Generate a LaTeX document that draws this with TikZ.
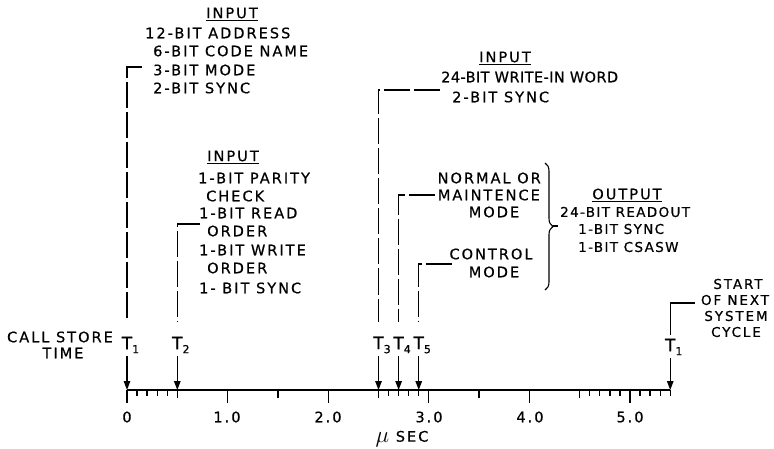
\documentclass[tikz,border=0pt]{standalone}
\usepackage{fontspec}
\usetikzlibrary{arrows.meta,decorations.pathreplacing}
\newfontfamily\lettfont{DejaVu Sans}[LetterSpace=14,FakeBold=0.6]
\newfontfamily\lettfontb{DejaVu Sans}[LetterSpace=3,FakeBold=0.6]
\newfontfamily\lettfontc{DejaVu Sans}[LetterSpace=10,FakeBold=0.6]
\newfontfamily\tfont{DejaVu Sans}[FakeBold=0.8]
\newcommand{\lett}{\lettfont\fontsize{14.5}{17}\selectfont}
\newcommand{\subn}[1]{\raisebox{-4pt}{\fontsize{11}{11}\selectfont #1}}
\tikzset{
  lbl/.style={inner sep=0pt, font=\lett},
  lblw/.style={inner sep=0pt, font=\lettfontb\fontsize{14.5}{17}\selectfont},
  lblo/.style={inner sep=0pt, font=\lettfontc\fontsize{13.5}{16}\selectfont},
  lbls/.style={inner sep=0pt, font=\lettfont\fontsize{13.5}{16}\selectfont},
  tlbl/.style={inner sep=0pt, font=\tfont\fontsize{17}{17}\selectfont},
  tline/.style={line width=1.3pt, dash pattern=on 26pt off 4pt},
  hline/.style={line width=1.3pt},
  arr/.style={line width=1.3pt, -{Triangle[length=9pt,width=6.5pt]}},
  tck/.style={line width=1.3pt},
}
\begin{document}
\begin{tikzpicture}[x=1pt,y=-1pt]
\useasboundingbox (0,0) rectangle (774,449);
% axis
\def\ux{100.6}
\coordinate (ax0) at (127,390);
\coordinate (axe) at ({127+5.4*\ux},390);
\draw[tck] (ax0) -- (axe);
\foreach \t in {0,1,2,3,4,5} \draw[tck] ({127+\t*\ux},390) -- ({127+\t*\ux},403);
\foreach \t in {0.5,1.5,2.5,3.5,4.5} \draw[tck] ({127+\t*\ux},390) -- ({127+\t*\ux},398);
\foreach \t in {0.1,0.2,0.3,0.4,2.6,2.7,2.8,2.9,4.6,4.7,4.8,4.9,5.1,5.2,5.3,5.4} \draw[tck] ({127+\t*\ux},390) -- ({127+\t*\ux},396);
% axis numbers
\node[lbl] (n0) at (127,417) {0};
\node[lbl] (n1) at (227,417) {1.0};
\node[lbl] (n2) at (328,417) {2.0};
\node[lbl] (n3) at (429,417) {3.0};
\node[lbl] (n4) at (530,417) {4.0};
\node[lbl] (n5) at (630,417) {5.0};
\node[lbl] (usec) at (402,439) {\raisebox{-1pt}{\scalebox{1.6}{$\mu$}} SEC};
% axis arrow targets
\coordinate (p1) at (127,390);
\coordinate (p2) at ({127+0.5*\ux},390);
\coordinate (p3) at ({127+2.5*\ux},390);
\coordinate (p4) at ({127+2.7*\ux},390);
\coordinate (p5) at ({127+2.9*\ux},390);
\coordinate (p6) at ({127+5.4*\ux},390);
% T labels
\node[tlbl] (t1) at (127,345) {T\rlap{\subn{1}}};
\node[tlbl] (t2) at (p2 |- 0,345) {T\rlap{\subn{2}}};
\node[tlbl] (t3) at (p3 |- 0,345) {T\rlap{\subn{3}}};
\node[tlbl] (t4) at (p4 |- 0,345) {T\rlap{\subn{4}}};
\node[tlbl] (t5) at (p5 |- 0,345) {T\rlap{\subn{5}}};
\node[tlbl] (t6) at (p6 |- 0,347) {T\rlap{\subn{1}}};
\foreach \i/\j in {t1/p1,t2/p2,t3/p3,t4/p4,t5/p5,t6/p6}
  \draw[arr] ([yshift=-3pt]\i.south) -- (\j);
% call store time
\node[lbl] (cs1) at (60,337) {CALL STORE};
\node[lbl] (cs2) at (63,353) {TIME};
% block 1
\node[lbl] (in1) at (232,14) {\underline{INPUT}};
\node[lbl,anchor=west] (a1) at (145,33) {12-BIT ADDRESS};
\node[lbl,anchor=west] (a2) at (153,51) {6-BIT CODE NAME};
\node[lbl,anchor=west] (a3) at (153,70) {3-BIT MODE};
\node[lbl,anchor=west] (a4) at (153,88) {2-BIT SYNC};
\coordinate (c1) at (127,67);
\coordinate (h1) at (142,67);
\draw[tline] (h1) -- (c1) -- ([yshift=15pt]t1.north);
% block 2
\node[lbl] (in2) at (233,157) {\underline{INPUT}};
\node[lbl,anchor=west] (b1) at (198,178) {1-BIT PARITY};
\node[lbl,anchor=west] (b2) at (206,196) {CHECK};
\node[lbl,anchor=west] (b3) at (199,213) {1-BIT READ};
\node[lbl,anchor=west] (b4) at (207,231) {ORDER};
\node[lbl,anchor=west] (b5) at (199,250) {1-BIT WRITE};
\node[lbl,anchor=west] (b6) at (207,268) {ORDER};
\node[lbl,anchor=west] (b7) at (199,288) {1- BIT SYNC};
\coordinate (c2) at (p2 |- 0,224);
\coordinate (h2) at (200,224);
\draw[tline] (h2) -- (c2) -- ([yshift=15pt]t2.north);
% block 3
\node[lbl] (in3) at (505,58) {\underline{INPUT}};
\node[lblw,anchor=west] (w1) at (441,77) {24-BIT WRITE-IN WORD};
\node[lbl,anchor=west] (w2) at (452,97) {2-BIT SYNC};
\coordinate (c3) at (p3 |- 0,90);
\coordinate (h3) at (440,90);
\draw[tline] (h3) -- (c3) -- ([yshift=15pt]t3.north);
% T4 block
\node[lbl,anchor=east] (m1) at (541,178) {NORMAL OR};
\node[lbl,anchor=east] (m2) at (540,195) {MAINTENCE};
\node[lbl] (m3) at (494,212) {MODE};
\coordinate (c4) at (p4 |- 0,195);
\coordinate (h4) at (435,195);
\draw[tline] (h4) -- (c4) -- ([yshift=15pt]t4.north);
% T5 block
\node[lbl] (k1) at (491,254) {CONTROL};
\node[lbl] (k2) at (494,272) {MODE};
\coordinate (c5) at (p5 |- 0,264);
\coordinate (h5) at (452,264);
\draw[tline] (h5) -- (c5) -- ([yshift=15pt]t5.north);
% brace
\coordinate (br1) at (545,163);
\coordinate (br2) at (545,290);
\draw[line width=1.1pt,decorate,decoration={brace,amplitude=8pt}] (br1) -- (br2);
\coordinate (bt1) at (553,226);
\coordinate (bt2) at (558,226);
\draw[line width=1.1pt] (bt1) -- (bt2);
% output
\node[lbl] (out) at (627,195) {\underline{OUTPUT}};
\node[lblo,anchor=west] (o1) at (560,212) {24-BIT READOUT};
\node[lblo,anchor=west] (o2) at (578,229) {1-BIT SYNC};
\node[lblo,anchor=west] (o3) at (578,247) {1-BIT CSASW};
% start of next
\node[lbls] (s1) at (738,284) {START};
\node[lbls] (s2) at (735,300) {OF NEXT};
\node[lbls] (s3) at (736,316) {SYSTEM};
\node[lbls] (s4) at (736,332) {CYCLE};
\coordinate (c6) at (p6 |- 0,303);
\coordinate (h6) at (695,303);
\draw[hline] (h6) -- (c6) -- ([yshift=4pt]t6.north);
\end{tikzpicture}
\end{document}
